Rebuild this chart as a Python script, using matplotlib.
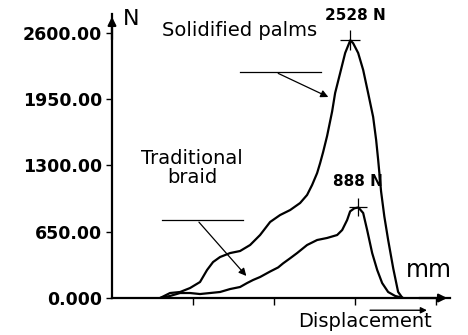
import matplotlib
matplotlib.use("Agg")
import matplotlib.pyplot as plt

# force-displacement curves (x in tick units, y in N)
palms_x = [0.593, 0.716, 0.840, 0.963, 1.086, 1.173, 1.247, 1.333, 1.457, 1.580,
           1.704, 1.827, 1.951, 2.074, 2.198, 2.321, 2.407, 2.469, 2.531, 2.568,
           2.605, 2.654, 2.716, 2.753, 2.815, 2.877, 2.940, 2.975, 3.037, 3.099,
           3.160, 3.222, 3.259, 3.284, 3.320, 3.360, 3.407, 3.470, 3.530, 3.575,
           3.590]
palms_y = [0, 49, 59, 98, 157, 275, 353, 402, 441, 461,
           520, 618, 746, 814, 863, 932, 1011, 1109, 1226, 1324,
           1432, 1590, 1830, 2011, 2207, 2404, 2528, 2500, 2404, 2237,
           2011, 1776, 1550, 1354, 1045, 800, 570, 290, 60, 10,
           0]

braid_x = [0.593, 0.716, 0.840, 0.963, 1.086, 1.210, 1.333, 1.457, 1.580, 1.667,
           1.741, 1.827, 1.951, 2.050, 2.111, 2.198, 2.284, 2.407, 2.531, 2.654,
           2.778, 2.840, 2.901, 2.938, 2.990, 3.040, 3.099, 3.148, 3.210, 3.272,
           3.333, 3.407, 3.494, 3.556, 3.590]
braid_y = [0, 20, 49, 49, 39, 49, 59, 88, 108, 147,
           177, 206, 260, 300, 340, 390, 441, 520, 569, 589,
           618, 667, 765, 850, 880, 888, 834, 667, 441, 275,
           147, 59, 20, 8, 0]

palms_peak = (2.94, 2528)
braid_peak = (3.04, 888)

y_ticks = [0, 650, 1300, 1950, 2600]
y_labels = ["0.000", "650.00", "1300.00", "1950.00", "2600.00"]
x_ticks = [1, 2, 3, 4]

fig = plt.figure(figsize=(4.68, 3.35), dpi=100)
ax = fig.add_axes([0.2393, 0.1104, 0.7222, 0.8478])

ax.plot(palms_x, palms_y, color="black", lw=1.6, solid_joinstyle="round")
ax.plot(braid_x, braid_y, color="black", lw=1.6, solid_joinstyle="round")

# peak markers
ax.plot(*palms_peak, marker="+", ms=14, mew=0.9, color="black")
ax.plot(*braid_peak, marker="+", ms=13, mew=0.9, color="black")
ax.text(palms_peak[0] + 0.06, palms_peak[1] + 170, "2528 N", ha="center", va="bottom",
        fontsize=11, fontweight="bold")
ax.text(braid_peak[0] - 0.01, braid_peak[1] + 180, "888 N", ha="center", va="bottom",
        fontsize=11, fontweight="bold")

ax.set_xlim(0, 4.17)
ax.set_ylim(0, 2786)

for side in ["top", "right"]:
    ax.spines[side].set_visible(False)
for side in ["left", "bottom"]:
    ax.spines[side].set_linewidth(1.6)

ax.set_yticks(y_ticks)
ax.set_yticklabels(y_labels, fontsize=12.5, fontweight="bold")
ax.set_xticks(x_ticks)
ax.set_xticklabels([])
ax.tick_params(axis="y", length=4, width=1, pad=3)
ax.tick_params(axis="x", length=5, width=1)

# axis arrowheads
ax.annotate("", xy=(1.0, 0), xytext=(0.9, 0), xycoords="axes fraction",
            arrowprops=dict(arrowstyle="-|>", color="black", lw=1.6, mutation_scale=12))
ax.annotate("", xy=(0, 1.0), xytext=(0, 0.9), xycoords="axes fraction",
            arrowprops=dict(arrowstyle="-|>", color="black", lw=1.6, mutation_scale=12))

# axis unit labels
ax.text(0.14, 2740, "N", fontsize=16, ha="left", va="center")
ax.text(3.62, 270, "mm", fontsize=17, ha="left", va="center")
ax.text(3.12, -235, "Displacement", fontsize=14, ha="center", va="center")
ax.annotate("", xy=(3.92, -120), xytext=(3.15, -120), xycoords="data",
            arrowprops=dict(arrowstyle="-|>", color="black", lw=1, mutation_scale=9),
            annotation_clip=False)

# curve labels with leader lines
ax.text(1.57, 2620, "Solidified palms", fontsize=14, ha="center", va="center")
ax.plot([1.58, 2.58], [2215, 2215], color="black", lw=0.9)
ax.annotate("", xy=(2.70, 1960), xytext=(2.02, 2215),
            arrowprops=dict(arrowstyle="-|>", color="black", lw=0.9, mutation_scale=11))

ax.text(0.99, 1275, "Traditional\nbraid", fontsize=14, ha="center", va="center",
        linespacing=1.0)
ax.plot([0.62, 1.62], [765, 765], color="black", lw=0.9)
ax.annotate("", xy=(1.68, 196), xytext=(1.05, 765),
            arrowprops=dict(arrowstyle="-|>", color="black", lw=0.9, mutation_scale=11))

fig.savefig("out.png", dpi=100)
